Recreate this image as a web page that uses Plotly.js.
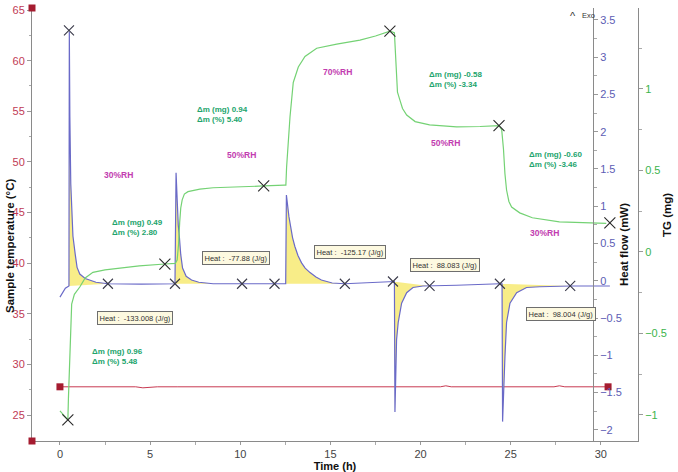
<!DOCTYPE html>
<html><head><meta charset="utf-8">
<script src="https://cdn.plot.ly/plotly-3.0.1.min.js"></script>
<style>html,body{margin:0;padding:0;background:#fff}#chart{width:678px;height:472px}</style>
</head><body><div id="chart"></div>
<script>
// ---- data ----
const tempTime  = [0, 4.2, 4.6, 5.0, 5.4, 6.5, 21.1, 21.4, 21.7, 27.4, 27.7, 28.0, 30.4];
const tempValue = [27.8, 27.8, 27.7, 27.75, 27.8, 27.8, 27.8, 27.9, 27.8, 27.8, 27.9, 27.8, 27.8];

const hfTime  = [0, 0.15, 0.3, 0.5, 0.52, 0.55, 0.6, 0.65, 0.72, 0.85, 0.95, 1.1, 1.4, 2.0, 2.66, 4.5,
  6.38, 6.44, 6.5, 6.56, 6.62, 6.7, 6.8, 7.0, 7.3, 7.7, 8.5, 10.1, 11.9,
  12.52, 12.56, 12.62, 12.7, 12.8, 12.9, 13.03, 13.2, 13.4, 13.6, 13.87, 14.2, 14.5, 15.1, 15.8, 17.0,
  18.47, 18.55, 18.58, 18.62, 18.64, 18.67, 18.76, 18.95, 19.23, 19.58, 20.13, 20.5, 22.0,
  24.4, 24.52, 24.55, 24.6, 24.62, 24.68, 24.77, 24.96, 25.33, 25.88, 26.62, 28.3, 30.5];
const hfValue = [-0.22, -0.15, -0.10, -0.07, 3.34, 2.2, 1.3, 0.9, 0.6, 0.35, 0.18, 0.09, 0.03, -0.02, -0.04, -0.045,
  -0.04, 1.45, 1.0, 0.75, 0.6, 0.35, 0.17, 0.06, 0.01, -0.02, -0.04, -0.04, -0.04,
  -0.04, 1.15, 1.02, 0.86, 0.72, 0.58, 0.46, 0.34, 0.24, 0.17, 0.11, 0.05, 0.01, -0.03, -0.04, -0.03,
  -0.01, -0.01, -1.76, -1.4, -1.23, -0.79, -0.56, -0.30, -0.16, -0.09, -0.07, -0.07, -0.06,
  -0.04, -0.04, -1.89, -1.5, -1.23, -1.02, -0.56, -0.30, -0.16, -0.09, -0.08, -0.07, -0.07];

const tgTime  = [0, 0.44, 0.47, 0.52, 0.58, 0.65, 0.8, 1.1, 1.4, 1.83, 2.5, 3.2, 4.4, 5.82,
  6.4, 6.5, 6.58, 6.64, 6.7, 6.78, 6.9, 7.1, 7.76, 8.5, 9.6, 11.3, 12.45,
  12.53, 12.57, 12.76, 12.94, 13.22, 13.59, 14.24, 15.35, 16.64, 17.5, 18.3,
  18.55, 18.6, 18.65, 18.72, 18.86, 19.0, 19.23, 19.7, 20.5, 22.0, 23.3, 24.35,
  24.5, 24.6, 24.68, 24.77, 24.9, 25.05, 25.5, 26.2, 27.7, 29.2, 30.3];
const tgValue = [-0.975, -1.03, -0.9, -0.7, -0.5, -0.32, -0.26, -0.215, -0.16, -0.125, -0.11, -0.10, -0.086, -0.074,
  -0.07, -0.05, 0.05, 0.18, 0.27, 0.32, 0.355, 0.37, 0.386, 0.394, 0.40, 0.405, 0.41,
  0.41, 0.52, 0.83, 1.04, 1.135, 1.2, 1.25, 1.275, 1.30, 1.325, 1.355,
  1.345, 1.25, 1.08, 0.98, 0.93, 0.88, 0.84, 0.80, 0.78, 0.768, 0.770, 0.775,
  0.75, 0.63, 0.48, 0.38, 0.31, 0.276, 0.24, 0.21, 0.185, 0.178, 0.176];

const hfMarkTime  = [0.5, 2.66, 6.38, 10.1, 11.9, 15.8, 18.47, 20.5, 24.4, 28.3];
const hfMarkValue = [3.36, -0.04, -0.04, -0.04, -0.04, -0.04, -0.01, -0.07, -0.04, -0.07];
const tgMarkTime  = [0.44, 5.82, 11.3, 18.3, 24.35, 30.5];
const tgMarkValue = [-1.03, -0.074, 0.405, 1.355, 0.775, 0.178];

// integration limits (h) of the heat peaks
const peakStart = [0.5, 6.38, 11.9, 18.47, 24.4];
const peakEnd   = [2.66, 10.1, 15.8, 20.5, 28.3];
const heatLabels = ["Heat :  -133.008 (J/g)", "Heat :  -77.88 (J/g)", "Heat :  -125.17 (J/g)", "Heat :  88.083 (J/g)", "Heat :  98.004 (J/g)"];
const massLabels = ["Δm (mg) 0.96<br>Δm (%) 5.48", "Δm (mg) 0.49<br>Δm (%) 2.80", "Δm (mg) 0.94<br>Δm (%) 5.40",
                    "Δm (mg) -0.58<br>Δm (%) -3.34", "Δm (mg) -0.60<br>Δm (%) -3.46"];
const rhLabels = ["30%RH", "50%RH", "70%RH", "50%RH", "30%RH"];

// ---- layout helpers (pixel -> paper) ----
const L = 32, T = 8, W = 606, H = 433;
function P(x, y) { return {x: (x - L) / W, y: (T + H - y) / H, xref: 'paper', yref: 'paper'}; }

const FONT = 'Liberation Sans, Arial, sans-serif';
const traces = [];

// yellow fills
for (let i = 0; i < peakStart.length; i++) {
  const xs = [], ys = [];
  hfTime.forEach((t, k) => { if (t >= peakStart[i] && t <= peakEnd[i]) { xs.push(t); ys.push(hfValue[k]); } });
  traces.push({x: xs, y: ys, yaxis: 'y2', type: 'scatter', mode: 'lines', fill: 'toself',
    fillcolor: 'rgba(248,236,130,0.95)', line: {width: 0}, hoverinfo: 'skip', showlegend: false});
}
// temperature
traces.push({x: tempTime, y: tempValue, yaxis: 'y', mode: 'lines', line: {color: '#c83a52', width: 1}, showlegend: false});
traces.push({x: [tempTime[0], tempTime[tempTime.length - 1]], y: [tempValue[0], tempValue[tempValue.length - 1]],
  yaxis: 'y', mode: 'markers', marker: {symbol: 'square', size: 7, color: '#a51c30'}, cliponaxis: false, showlegend: false});
// TG
traces.push({x: tgTime, y: tgValue, yaxis: 'y3', mode: 'lines', line: {color: '#74d274', width: 1.2}, showlegend: false});
// heat flow
traces.push({x: hfTime, y: hfValue, yaxis: 'y2', mode: 'lines', line: {color: '#6a6ac8', width: 1.2}, showlegend: false});
// markers
traces.push({x: hfMarkTime, y: hfMarkValue, yaxis: 'y2', mode: 'markers',
  marker: {symbol: 'x-thin', size: 10, line: {width: 1.1, color: '#3a3a4a'}}, showlegend: false});
traces.push({x: tgMarkTime, y: tgMarkValue, yaxis: 'y3', mode: 'markers', cliponaxis: false,
  marker: {symbol: 'x-thin', size: 11, line: {width: 1.1, color: '#2a2a2a'}}, showlegend: false});

const annotations = [];
const massPos = [[90, 356], [110, 227], [195, 114], [427, 79], [527, 159]];
massLabels.forEach((s, i) => annotations.push(Object.assign(P(massPos[i][0], massPos[i][1]), {
  text: s, showarrow: false, xanchor: 'left', yanchor: 'middle', align: 'left',
  font: {family: FONT, size: 8, color: '#22a46c', weight: 'bold'}})));
const rhPos = [[118, 175], [242, 155], [337, 72], [445, 143], [544, 233]];
rhLabels.forEach((s, i) => annotations.push(Object.assign(P(rhPos[i][0], rhPos[i][1]), {
  text: s, showarrow: false, xanchor: 'center', yanchor: 'middle',
  font: {family: FONT, size: 8.5, color: '#c23cb0', weight: 'bold'}})));
const heatPos = [[135, 318], [236, 258], [350, 252], [445, 265], [561, 314]];
heatLabels.forEach((s, i) => annotations.push(Object.assign(P(heatPos[i][0], heatPos[i][1]), {
  text: s, showarrow: false, xanchor: 'center', yanchor: 'middle',
  bgcolor: '#fdf9e0', bordercolor: '#6e6e6e', borderwidth: 1, borderpad: 1.5,
  font: {family: FONT, size: 7.5, color: '#333'}})));
const C = {showarrow: false, xanchor: 'center', yanchor: 'middle'};
annotations.push(Object.assign(P(573, 16), C, {text: '^', font: {family: FONT, size: 11, color: '#333'}}));
annotations.push(Object.assign(P(588, 16), C, {text: 'Exo', font: {family: FONT, size: 7.5, color: '#333'}}));
// axis titles placed as in the reference
const titleFont = {family: FONT, size: 11.5, color: '#111', weight: 'bold'};
annotations.push(Object.assign(P(10, 246), C, {text: 'Sample temperature (°C)', textangle: -90, font: titleFont}));
annotations.push(Object.assign(P(624, 245), C, {text: 'Heat flow (mW)', textangle: -90, font: titleFont}));
annotations.push(Object.assign(P(667, 215), C, {text: 'TG (mg)', textangle: -90, font: titleFont}));

const sq = (xa, ya) => ({type: 'rect', xref: 'paper', yref: 'paper', xsizemode: 'pixel', ysizemode: 'pixel',
  xanchor: xa, yanchor: ya, x0: -3.5, x1: 3.5, y0: -3.5, y1: 3.5, fillcolor: '#a51c30', line: {width: 0}});

const axisCommon = {showgrid: false, zeroline: false, showline: true, linecolor: '#8a8a8a', linewidth: 1,
  ticks: 'outside', ticklen: 4, tickcolor: '#9a9a9a', automargin: false};
const minor = d => ({ticks: 'outside', ticklen: 2.5, dtick: d, tick0: 0, tickcolor: '#aaaaaa'});

const layout = {
  width: 678, height: 472,
  margin: {l: L, r: 678 - L - W, t: T, b: 472 - T - H},
  paper_bgcolor: '#fff', plot_bgcolor: '#fff',
  showlegend: false, hovermode: false,
  font: {family: FONT},
  xaxis: Object.assign({}, axisCommon, {range: [-1.55, 32.06], dtick: 5, tick0: 0, ticklen: 3,
    minor: minor(2.5), tickfont: {size: 11, color: '#444'},
    title: {text: 'Time (h)', font: {size: 11, color: '#111', weight: 'bold'}, standoff: 2}}),
  yaxis: Object.assign({}, axisCommon, {range: [22.45, 65.2], dtick: 5, tick0: 0,
    minor: minor(2.5), tickfont: {size: 11, color: '#bf3b55'}}),
  yaxis2: Object.assign({}, axisCommon, {overlaying: 'y', side: 'right', anchor: 'free',
    position: (593 - L) / W, range: [-2.15, 3.66], dtick: 0.5, tick0: 0,
    minor: minor(0.25), tickfont: {size: 11, color: '#5c5cb4'}}),
  yaxis3: Object.assign({}, axisCommon, {overlaying: 'y', side: 'right', anchor: 'x',
    range: [-1.16, 1.497], dtick: 0.5, tick0: 0,
    minor: minor(0.25), tickfont: {size: 11, color: '#3cb44c'}}),
  annotations: annotations,
  shapes: [sq(0, 1), sq(0, 0)]
};

Plotly.newPlot('chart', traces, layout, {displayModeBar: false, staticPlot: true});
</script>
</body></html>
